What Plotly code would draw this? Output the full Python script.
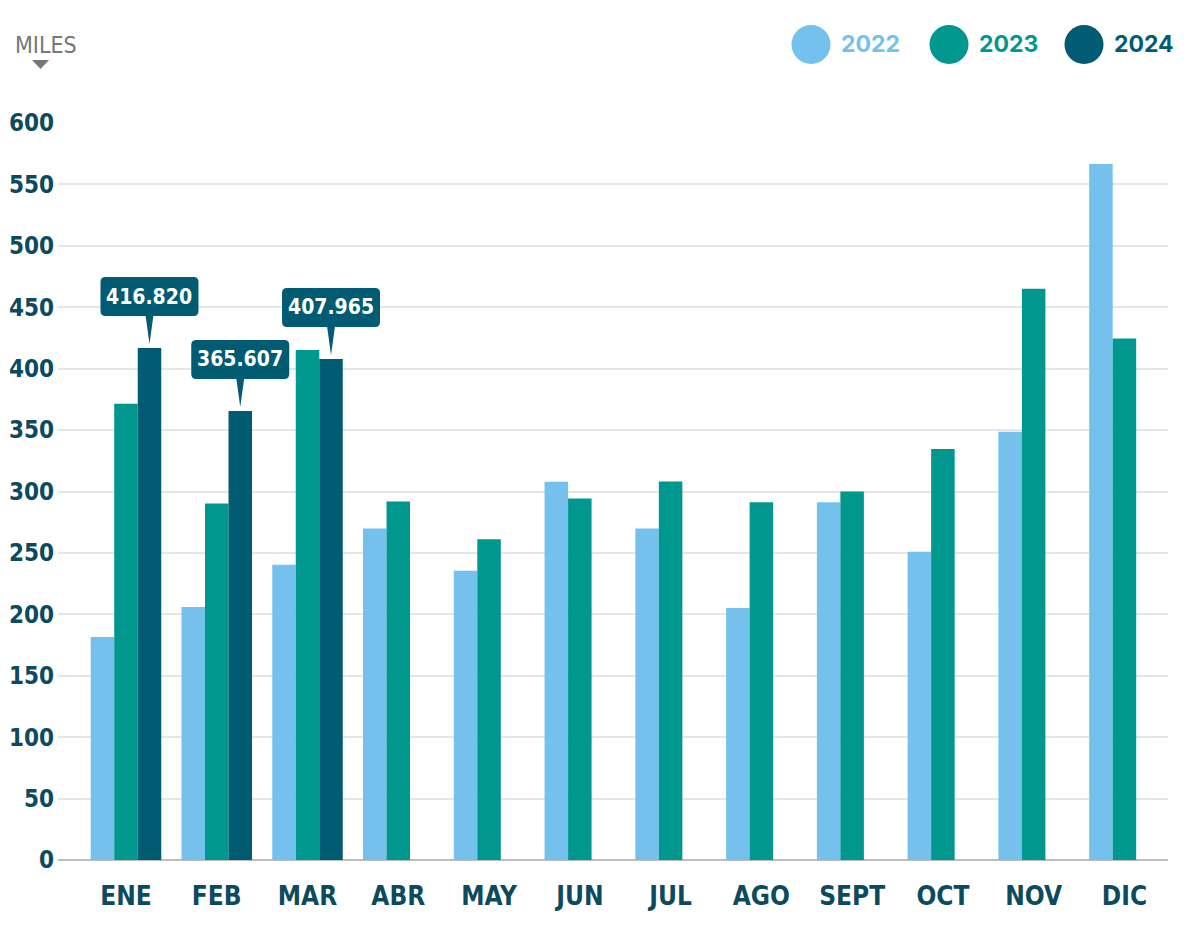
import plotly.graph_objects as go

months = ["ENE", "FEB", "MAR", "ABR", "MAY", "JUN", "JUL", "AGO", "SEPT", "OCT", "NOV", "DIC"]
v2022 = [181.6, 206.0, 240.3, 269.8, 235.4, 307.9, 269.8, 205.2, 291.3, 250.9, 348.6, 566.6]
v2023 = [371.4, 290.2, 415.1, 291.8, 261.2, 294.3, 308.1, 291.3, 300.0, 334.7, 465.0, 424.6]
v2024 = [416.820, 365.607, 407.965, None, None, None, None, None, None, None, None, None]
series_names = ["2022", "2023", "2024"]
y_ticks = [0, 50, 100, 150, 200, 250, 300, 350, 400, 450, 500, 550, 600]

colors = ["#74c1ed", "#00978f", "#005b73"]
tick_color = "#0c4a60"
cond_font = "DejaVu Sans Condensed"

fig = go.Figure()
for name, vals, col in zip(series_names, [v2022, v2023, v2024], colors):
    fig.add_trace(go.Bar(
        x=months, y=vals, name=name, marker_color=col,
        marker_line_width=0, showlegend=False,
    ))


def rounded_rect(x0, x1, y0, y1, r):
    return (f"M {x0 + r},{y0} L {x1 - r},{y0} Q {x1},{y0} {x1},{y0 + r} "
            f"L {x1},{y1 - r} Q {x1},{y1} {x1 - r},{y1} L {x0 + r},{y1} "
            f"Q {x0},{y1} {x0},{y1 - r} L {x0},{y0 + r} Q {x0},{y0} {x0 + r},{y0} Z")


# callouts for 2024 values (box + tail drawn in pixel offsets from the bar top)
slot = 23.5  # pixel offset of the 2024 bar centre from its category centre
for m, v in zip(months, v2024):
    if v is None:
        continue
    label = f"{v:.3f}"
    common = dict(type="path", xref="x", yref="y", xsizemode="pixel", ysizemode="pixel",
                  xanchor=m, yanchor=v, fillcolor=colors[2], line=dict(width=0))
    fig.add_shape(path=rounded_rect(slot - 49, slot + 49, 32, 71, 5), **common)
    fig.add_shape(path=f"M {slot - 4},33 L {slot + 4},33 L {slot},4 Z", **common)
    fig.add_annotation(
        x=m, y=v, xref="x", yref="y", xshift=slot, yshift=51.5,
        text=label, showarrow=False, yanchor="middle", xanchor="center",
        font=dict(family=cond_font, size=21, color="white", weight="bold"),
    )

legend_x = [811, 949, 1084]
for name, col, cx in zip(series_names, colors, legend_x):
    fig.add_shape(type="circle", xref="paper", yref="paper",
                  x0=(cx - 19.5 - 58) / 1110, x1=(cx + 19.5 - 58) / 1110,
                  y0=(860 - 64) / 737, y1=(860 - 25) / 737,
                  fillcolor=col, line=dict(color=col, width=0))
    fig.add_annotation(xref="paper", yref="paper",
                       x=(cx + 28 - 58) / 1110, y=(860 - 44.5) / 737,
                       text=name, showarrow=False,
                       xanchor="left", yanchor="middle",
                       font=dict(family="Inter, Roboto, sans-serif", size=23, color=col, weight="bold"))

fig.add_annotation(xref="paper", yref="paper",
                   x=(13 - 58) / 1110, y=(860 - 45) / 737,
                   text="MILES", showarrow=False, xanchor="left", yanchor="middle",
                   font=dict(family=cond_font, size=23, color="#777777"))
tx0, tx1, ty0, ty1 = (32 - 58) / 1110, (49 - 58) / 1110, (860 - 60) / 737, (860 - 69) / 737
fig.add_shape(type="path", xref="paper", yref="paper",
              path=f"M {tx0},{ty0} L {tx1},{ty0} L {(tx0 + tx1) / 2},{ty1} Z",
              fillcolor="#777777", line=dict(width=0))

fig.update_layout(
    width=1200, height=932,
    margin=dict(l=50, r=40, t=115, b=80, autoexpand=False),
    paper_bgcolor="white", plot_bgcolor="white",
    barmode="group", bargap=0.223, bargroupgap=0,
    font=dict(family=cond_font, color=tick_color),
)
fig.update_xaxes(
    type="category", categoryorder="array", categoryarray=months,
    range=[-0.749, 11.48], showgrid=False, showline=False, ticks="",
    ticklabelstandoff=18, automargin=False,
    tickfont=dict(family=cond_font, size=26, color=tick_color, weight="bold"),
)
fig.update_yaxes(
    range=[0, 600], tickvals=y_ticks, showgrid=True, gridcolor="#e6e6e6", gridwidth=1.5,
    zeroline=True, zerolinecolor="#bdbdbd", zerolinewidth=2, showline=False, ticks="",
    ticklabelstandoff=3, automargin=False,
    tickfont=dict(family=cond_font, size=24, color=tick_color, weight="bold"),
)

fig.write_html("out.html")
